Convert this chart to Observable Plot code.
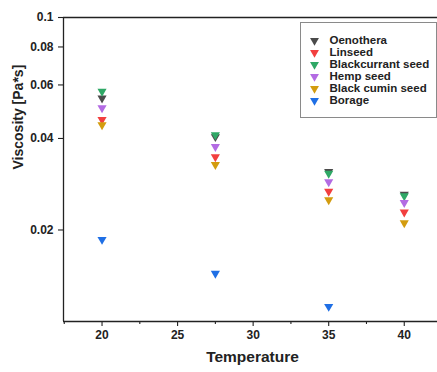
<!DOCTYPE html>
<html>
<head>
<meta charset="utf-8">
<script src="https://cdn.jsdelivr.net/npm/d3@7"></script>
<script src="https://cdn.jsdelivr.net/npm/@observablehq/plot@0.6"></script>
<style>
  body { margin: 0; background: #fff; }
  #wrap { position: relative; width: 437px; height: 372px; overflow: hidden; }
  #legend { position: absolute; left: 300px; top: 22px; border: 1px solid #8a8a8a; background: #fff; line-height: 0; }
</style>
</head>
<body>
<div id="wrap"><div id="chart"></div><div id="legend"></div></div>
<script>
const temps = [20, 27.5, 35, 40];
const series = ["Oenothera", "Linseed", "Blackcurrant seed", "Hemp seed", "Black cumin seed", "Borage"];
const colors = ["#4b4b4b", "#f23f3f", "#2fa866", "#b36be3", "#d39c0f", "#1f6fe5"];
const oenothera = [0.0543, 0.0405, 0.0311, 0.0262];
const linseed = [0.0461, 0.0348, 0.0268, 0.0229];
const blackcurrant = [0.0571, 0.0411, 0.0307, 0.0259];
const hemp = [0.0504, 0.0376, 0.0288, 0.0246];
const blackCumin = [0.0443, 0.0328, 0.0251, 0.0211];
const borage = [0.0186, 0.0144, 0.0112, null];
const xTicks = [20, 25, 30, 35, 40];
const xMinor = [17.5, 22.5, 27.5, 32.5, 37.5, 42.5];
const yTicks = [0.02, 0.04, 0.06, 0.08, 0.1];
const xDomain = [17.45, 42.2];
const yDomain = [0.01, 0.1];

const values = [oenothera, linseed, blackcurrant, hemp, blackCumin, borage];
const rows = [];
series.forEach((s, i) => temps.forEach((t, j) => {
  if (values[i][j] != null) rows.push({series: s, t, v: values[i][j]});
}));

const ink = "#222";
const chart = Plot.plot({
  width: 437, height: 372,
  marginLeft: 63, marginRight: 0, marginTop: 17, marginBottom: 51,
  style: {background: "#fff", fontFamily: "'Liberation Sans', Arial, sans-serif", fontSize: "12px", fontWeight: "bold", color: ink},
  x: {domain: xDomain},
  y: {type: "log", domain: yDomain},
  color: {domain: series, range: colors},
  marks: [
    Plot.axisX({ticks: xMinor.filter(d => d >= xDomain[0] && d <= xDomain[1]), tickSize: 3, text: null, label: null, strokeWidth: 1.1}),
    Plot.axisX({ticks: xTicks, tickSize: 5, tickPadding: 4, tickFormat: d => String(d), label: null, strokeWidth: 1.1, fontSize: 12, fontWeight: "bold"}),
    Plot.axisY({ticks: yTicks, tickSize: 5, tickPadding: 5, tickFormat: d => String(d), label: null, strokeWidth: 1.1, fontSize: 12, fontWeight: "bold"}),
    Plot.ruleY([yDomain[1]], {stroke: ink, strokeWidth: 1.3}),
    Plot.ruleY([yDomain[0]], {stroke: ink, strokeWidth: 1.3}),
    Plot.ruleX([xDomain[0]], {stroke: ink, strokeWidth: 1.3}),
    Plot.dot(rows, {x: "t", y: "v", fill: "series", symbol: "triangle", r: 3.4, rotate: 180}),
    Plot.text(["Temperature"], {frameAnchor: "bottom", dy: 40, dx: 2, text: d => d, fontSize: 15.5, fontWeight: "bold", fill: ink}),
    Plot.text(["Viscosity [Pa*s]"], {frameAnchor: "left", dx: -45, rotate: -90, text: d => d, fontSize: 14, fontWeight: "bold", fill: ink})
  ]
});
document.getElementById("chart").appendChild(chart);

const legend = Plot.plot({
  width: 135, height: 94, margin: 0,
  style: {background: "#fff", fontFamily: "'Liberation Sans', Arial, sans-serif", fontWeight: "bold", color: ink},
  y: {type: "point", domain: series, range: [8.5, 86], axis: null},
  color: {domain: series, range: colors},
  marks: [
    Plot.dot(series, {y: d => d, frameAnchor: "left", dx: 13, fill: d => d, symbol: "triangle", r: 3.3, rotate: 180}),
    Plot.text(series, {y: d => d, frameAnchor: "left", dx: 28, text: d => d, textAnchor: "start", fontSize: 11.5, fontWeight: "bold", fill: ink})
  ]
});
document.getElementById("legend").appendChild(legend);
</script>
</body>
</html>
